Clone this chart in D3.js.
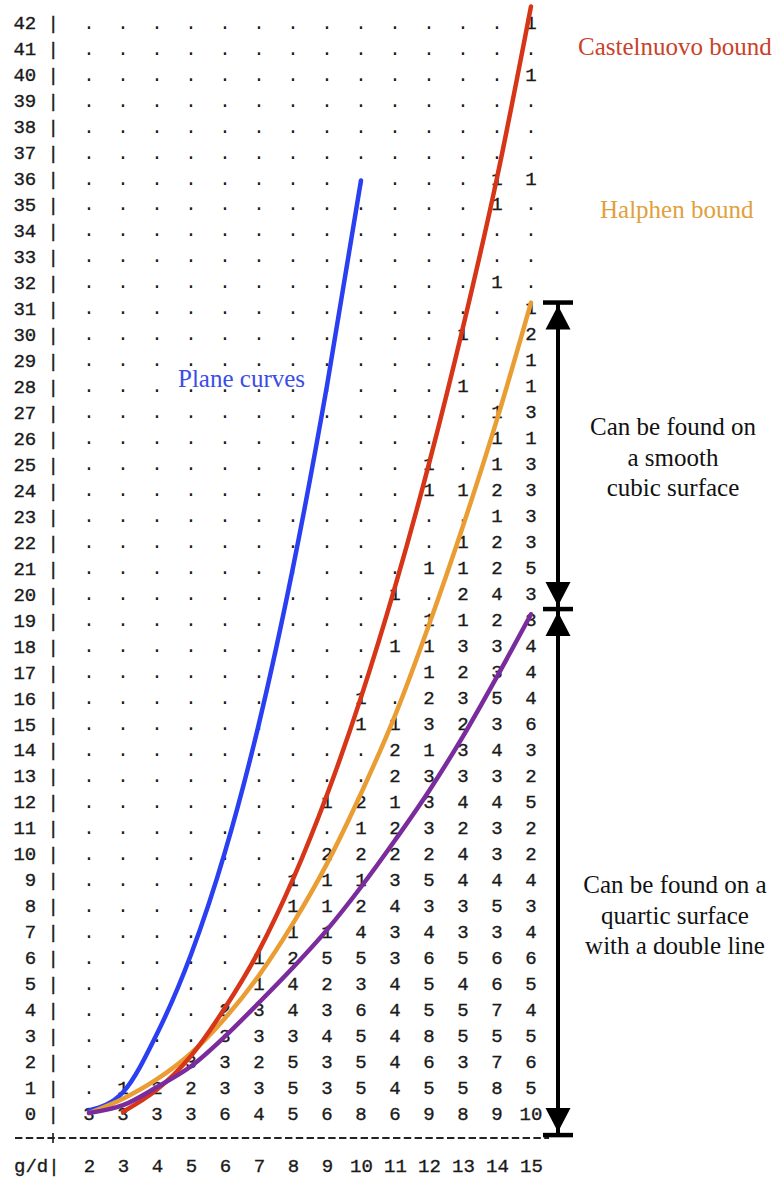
<!DOCTYPE html>
<html><head><meta charset="utf-8">
<script src="https://cdn.jsdelivr.net/npm/d3@7"></script>
<style>body{margin:0;background:#fff}</style>
</head><body>
<svg id="chart" width="776" height="1177"></svg>
<script>
// ---- data ----
const degrees = [2,3,4,5,6,7,8,9,10,11,12,13,14,15];
const genera = d3.range(0, 43);
// one row per genus, from g = 42 down to g = 0; 0 means "." (no entry)
const tableRows = [
  [0,0,0,0,0,0,0,0,0,0,0,0,0,1], // 42
  [0,0,0,0,0,0,0,0,0,0,0,0,0,0], // 41
  [0,0,0,0,0,0,0,0,0,0,0,0,0,1], // 40
  [0,0,0,0,0,0,0,0,0,0,0,0,0,0], // 39
  [0,0,0,0,0,0,0,0,0,0,0,0,0,0], // 38
  [0,0,0,0,0,0,0,0,0,0,0,0,0,0], // 37
  [0,0,0,0,0,0,0,0,0,0,0,0,1,1], // 36
  [0,0,0,0,0,0,0,0,0,0,0,0,1,0], // 35
  [0,0,0,0,0,0,0,0,0,0,0,0,0,0], // 34
  [0,0,0,0,0,0,0,0,0,0,0,0,0,0], // 33
  [0,0,0,0,0,0,0,0,0,0,0,0,1,0], // 32
  [0,0,0,0,0,0,0,0,0,0,0,0,0,1], // 31
  [0,0,0,0,0,0,0,0,0,0,0,1,0,2], // 30
  [0,0,0,0,0,0,0,0,0,0,0,0,0,1], // 29
  [0,0,0,0,0,0,0,0,0,0,0,1,0,1], // 28
  [0,0,0,0,0,0,0,0,0,0,0,0,1,3], // 27
  [0,0,0,0,0,0,0,0,0,0,0,0,1,1], // 26
  [0,0,0,0,0,0,0,0,0,0,1,0,1,3], // 25
  [0,0,0,0,0,0,0,0,0,0,1,1,2,3], // 24
  [0,0,0,0,0,0,0,0,0,0,0,0,1,3], // 23
  [0,0,0,0,0,0,0,0,0,0,0,1,2,3], // 22
  [0,0,0,0,0,0,0,0,0,0,1,1,2,5], // 21
  [0,0,0,0,0,0,0,0,0,1,0,2,4,3], // 20
  [0,0,0,0,0,0,0,0,0,0,1,1,2,3], // 19
  [0,0,0,0,0,0,0,0,0,1,1,3,3,4], // 18
  [0,0,0,0,0,0,0,0,0,0,1,2,3,4], // 17
  [0,0,0,0,0,0,0,0,1,0,2,3,5,4], // 16
  [0,0,0,0,0,0,0,0,1,1,3,2,3,6], // 15
  [0,0,0,0,0,0,0,0,0,2,1,3,4,3], // 14
  [0,0,0,0,0,0,0,0,0,2,3,3,3,2], // 13
  [0,0,0,0,0,0,0,1,2,1,3,4,4,5], // 12
  [0,0,0,0,0,0,0,0,1,2,3,2,3,2], // 11
  [0,0,0,0,0,0,0,2,2,2,2,4,3,2], // 10
  [0,0,0,0,0,0,1,1,1,3,5,4,4,4], // 9
  [0,0,0,0,0,0,1,1,2,4,3,3,5,3], // 8
  [0,0,0,0,0,0,1,1,4,3,4,3,3,4], // 7
  [0,0,0,0,0,1,2,5,5,3,6,5,6,6], // 6
  [0,0,0,0,0,1,4,2,3,4,5,4,6,5], // 5
  [0,0,0,0,2,3,4,3,6,4,5,5,7,4], // 4
  [0,0,0,0,3,3,3,4,5,4,8,5,5,5], // 3
  [0,0,0,3,3,2,5,3,5,4,6,3,7,6], // 2
  [0,1,2,2,3,3,5,3,5,4,5,5,8,5], // 1
  [3,3,3,3,6,4,5,6,8,6,9,8,9,10] // 0
];

// curves (genus read at each degree)
const planeDeg = [2,3,4,5,6,7,8,9,10];
const planeGenus = [0.1,0.8,3.05,6.1,10.05,15,21,28,35.9];
const castelnuovoDeg = [3,4,5,6,7,8,9,10,11,12,13,14,15];
const castelnuovoGenus = [0.05,0.9,2.2,4.05,6.25,9,12.25,16,20.25,25,30.25,36,42.6];
const halphenDeg = [2,3,4,5,6,7,8,9,10,11,12,13,14,15];
const halphenGenus = [0,0.55,1.3,2.3,3.65,5.3,7.3,9.6,12.3,15.3,18.8,22.6,26.7,31.2];
const quarticDeg = [2,3,4,5,6,7,8,9,10,11,12,13,14,15];
const quarticGenus = [0,0.3,1.0,1.8,2.95,4.25,5.6,7.05,8.7,10.5,12.4,14.5,16.8,19.2];

// bracket bounds in genus units: top, middle, bottom
const bracketBounds = [31.2, 19.4, -0.85];

// ---- drawing ----
const svg = d3.select("#chart");
const x = d3.scaleLinear().domain([2, 15]).range([89, 531]);
const y = d3.scaleLinear().domain([0, 42]).range([1113, 22]);
const MONO = "'Liberation Mono', 'DejaVu Sans Mono', monospace";
const SERIF = "'Liberation Serif', 'DejaVu Serif', serif";
const INK = "#1a1a1a";
function mono(sel) {
  return sel.attr("font-family", MONO).attr("font-size", 19).attr("fill", INK)
    .attr("stroke", INK).attr("stroke-width", 0.35);
}

// row labels "g |"
const yAxis = svg.append("g").attr("transform", "translate(59,0)")
  .call(d3.axisLeft(y).tickValues(genera).tickSize(0).tickPadding(0)
    .tickFormat(g => g + " |"));
yAxis.select(".domain").remove();
mono(yAxis.selectAll("text")).attr("dy", "0.35em");

// column labels
const xAxis = svg.append("g").attr("transform", "translate(0,1165)")
  .call(d3.axisBottom(x).tickValues(degrees).tickSize(0).tickPadding(0));
xAxis.select(".domain").remove();
mono(xAxis.selectAll("text")).attr("y", 0).attr("dy", "0.35em");
mono(svg.append("text").attr("x", 14).attr("y", 1165).attr("dy", "0.35em")).text("g/d|");

// dashed separator
svg.append("line").attr("x1", 15).attr("x2", 549).attr("y1", 1138).attr("y2", 1138)
  .attr("stroke", "#222").attr("stroke-width", 1.9).attr("stroke-dasharray", "7.4,3.4");
svg.append("line").attr("x1", 53).attr("x2", 53).attr("y1", 1133).attr("y2", 1143)
  .attr("stroke", "#222").attr("stroke-width", 1.7);

// cells
const cells = [];
tableRows.forEach((row, i) => {
  const g = 42 - i;
  row.forEach((v, j) => cells.push({g, d: degrees[j], v}));
});
mono(svg.append("g").selectAll("text").data(cells).join("text")
  .attr("x", c => x(c.d)).attr("y", c => y(c.g)).attr("dy", "0.35em")
  .attr("text-anchor", "middle"))
  .attr("stroke-width", c => c.v === 0 ? 0 : 0.35)
  .text(c => c.v === 0 ? "." : c.v);

// curves
const line = d3.line().x(p => x(p[0])).y(p => y(p[1])).curve(d3.curveMonotoneX);
const curves = [
  {deg: planeDeg, gen: planeGenus, color: "#2a3ff2"},
  {deg: halphenDeg, gen: halphenGenus, color: "#e99d33"},
  {deg: castelnuovoDeg, gen: castelnuovoGenus, color: "#d63617"},
  {deg: quarticDeg, gen: quarticGenus, color: "#7a2c9c"}
];
svg.append("g").selectAll("path").data(curves).join("path")
  .attr("d", c => line(c.deg.map((d, i) => [d, c.gen[i]])))
  .attr("fill", "none").attr("stroke", c => c.color)
  .attr("stroke-width", 4.5).attr("stroke-linecap", "round");

// labels
function label(txt, xx, yy, color, anchor) {
  svg.append("text").attr("x", xx).attr("y", yy).attr("font-family", SERIF)
    .attr("font-size", 25).attr("fill", color).attr("text-anchor", anchor || "start").text(txt);
}
label("Plane curves", 178, 387, "#3a4de6");
label("Castelnuovo bound", 578, 55, "#c9422a");
label("Halphen bound", 600, 218, "#e1a03e");
[["Can be found on", 435], ["a smooth", 466], ["cubic surface", 496]]
  .forEach(([t, yy]) => label(t, 673, yy, "#111", "middle"));
[["Can be found on a", 893], ["quartic surface", 924], ["with a double line", 954]]
  .forEach(([t, yy]) => label(t, 675, yy, "#111", "middle"));

// brackets with arrows
const bx = 558, capHalf = 15, headW = 12.5, headH = 24;
const br = svg.append("g").attr("fill", "#000").attr("stroke", "#000");
const [yTop, yMid, yBot] = bracketBounds.map(y);
br.append("line").attr("x1", bx).attr("x2", bx).attr("y1", yTop).attr("y2", yBot).attr("stroke-width", 4);
[yTop, yMid, yBot].forEach(yy => br.append("line").attr("x1", bx - capHalf).attr("x2", bx + capHalf)
  .attr("y1", yy).attr("y2", yy).attr("stroke-width", 4.5));
function head(tipY, dir) { // dir = -1 points up, +1 points down
  br.append("path").attr("stroke", "none").attr("d",
    `M${bx},${tipY} L${bx - headW},${tipY - dir * headH} L${bx + headW},${tipY - dir * headH} Z`);
}
head(yTop + 3, -1);
head(yMid - 3, 1);
head(yMid + 3, -1);
head(yBot - 3, 1);
</script>
</body></html>
